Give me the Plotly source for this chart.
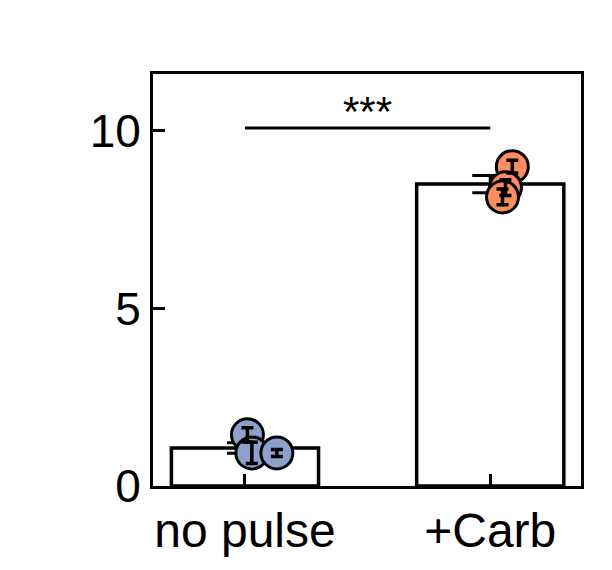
import plotly.graph_objects as go

categories = ["no pulse", "+Carb"]
bar_means = [1.07, 8.5]
bar_sem = [0.15, 0.24]

nopulse_x_offset = [0.01, 0.028, 0.13]
nopulse_vals = [1.44, 0.93, 0.93]
nopulse_err = [0.2, 0.3, 0.1]

carb_x_offset = [0.09, 0.062, 0.05]
carb_vals = [8.99, 8.4, 8.14]
carb_err = [0.18, 0.22, 0.22]

sig_y = 10.08
sig_text = "***"

blue = "#8DA0CB"
orange = "#FC8D62"
FONT = "Liberation Sans, Arial, Helvetica, sans-serif"

fig = go.Figure()

# bars
fig.add_trace(go.Bar(
    x=[0, 1], y=bar_means, width=0.6,
    marker=dict(color="white", line=dict(color="black", width=3.5)),
    showlegend=False, hoverinfo="skip",
))

# mean error bars (under points)
fig.add_trace(go.Scatter(
    x=[0, 1], y=bar_means, mode="markers",
    marker=dict(size=1, color="rgba(0,0,0,0)"),
    error_y=dict(type="data", array=bar_sem, color="black", thickness=3, width=18),
    showlegend=False, hoverinfo="skip",
))

groups = [
    (0, nopulse_x_offset, nopulse_vals, nopulse_err, blue),
    (1, carb_x_offset, carb_vals, carb_err, orange),
]
for gi, offs, vals, errs, col in groups:
    xs = [gi + o for o in offs]
    fig.add_trace(go.Scatter(
        x=xs, y=vals, mode="markers",
        marker=dict(size=32, color=col, line=dict(color="black", width=3)),
        showlegend=False,
    ))
    fig.add_trace(go.Scatter(
        x=xs, y=vals, mode="markers",
        marker=dict(size=1, color="rgba(0,0,0,0)"),
        error_y=dict(type="data", array=errs, color="black", thickness=3.5, width=6),
        showlegend=False, hoverinfo="skip",
    ))

# significance line
fig.add_trace(go.Scatter(
    x=[0, 1], y=[sig_y, sig_y], mode="lines",
    line=dict(color="black", width=3), showlegend=False, hoverinfo="skip",
))
fig.add_annotation(x=0.5, y=sig_y, text=sig_text, showarrow=False,
                   yanchor="bottom", yshift=-9,
                   font=dict(family=FONT, size=42, color="black"))

fig.update_layout(
    width=612, height=570,
    margin=dict(l=145, r=39, t=66, b=92),
    plot_bgcolor="white", paper_bgcolor="white",
    font=dict(family=FONT, color="black"),
    xaxis=dict(
        range=[-0.375, 1.37], tickvals=[0, 1], ticktext=categories,
        ticks="inside", ticklen=12, tickwidth=3, tickcolor="black",
        showline=True, linewidth=3, linecolor="black", mirror=True,
        showgrid=False, zeroline=False,
        tickfont=dict(size=48, family=FONT, color="black"),
    ),
    yaxis=dict(
        range=[0, 11.6], tickvals=[0, 5, 10],
        ticks="inside", ticklen=12, tickwidth=3, tickcolor="black",
        showline=True, linewidth=3, linecolor="black", mirror=True,
        showgrid=False, zeroline=False,
        tickfont=dict(size=46, family=FONT, color="black"),
    ),
)

fig.write_html("out.html")
